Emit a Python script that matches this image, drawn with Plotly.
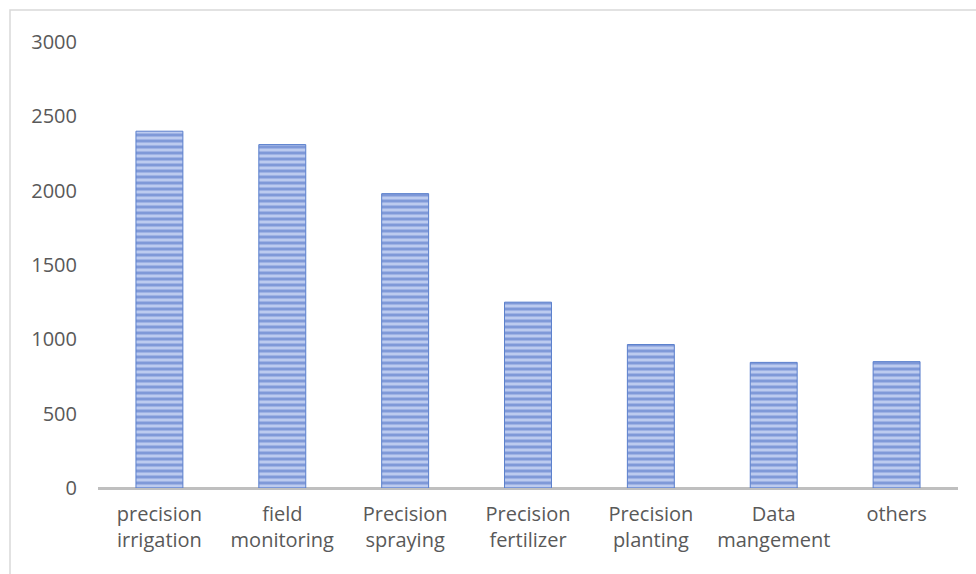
import plotly.graph_objects as go

categories = ["precision<br>irrigation", "field<br>monitoring", "Precision<br>spraying",
              "Precision<br>fertilizer", "Precision<br>planting", "Data<br>mangement", "others"]
values = [2400, 2310, 1980, 1250, 965, 845, 850]
y_ticks = [0, 500, 1000, 1500, 2000, 2500, 3000]

W, H = 976, 574
L, R, T, B = 98, 18, 42, 86
pw, ph = W - L - R, H - T - B

fig = go.Figure()
fig.add_trace(go.Bar(
    x=categories, y=values,
    marker=dict(
        color="#bccbef",
        line=dict(color="#5a7fcc", width=1),
        pattern=dict(shape="-", fgcolor="#4168c2", bgcolor="#bccbef", size=6, solidity=0.5),
    ),
    width=0.382,
))

def px_x(p):
    return (p - L) / pw

def px_y(p):
    return (H - B - p) / ph

fig.add_shape(type="rect", xref="paper", yref="paper",
              x0=px_x(10), x1=px_x(990), y0=px_y(590), y1=px_y(10),
              line=dict(color="#d9d9d9", width=1.5), fillcolor="rgba(0,0,0,0)", layer="below")

font = dict(family="Open Sans", size=20, color="#595959")
fig.update_layout(
    width=W, height=H,
    margin=dict(l=L, r=R, t=T, b=B),
    paper_bgcolor="white", plot_bgcolor="white",
    showlegend=False,
    font=font,
    xaxis=dict(showgrid=False, showline=False, zeroline=False, ticks="",
               tickfont=font, ticklabelstandoff=12),
    yaxis=dict(range=[0, 3000], tickvals=y_ticks, showgrid=False, zeroline=True,
               zerolinecolor="#bfbfbf", zerolinewidth=2.5, showline=False, ticks="",
               tickfont=font, ticklabelstandoff=20),
)
fig.write_html("out.html")
